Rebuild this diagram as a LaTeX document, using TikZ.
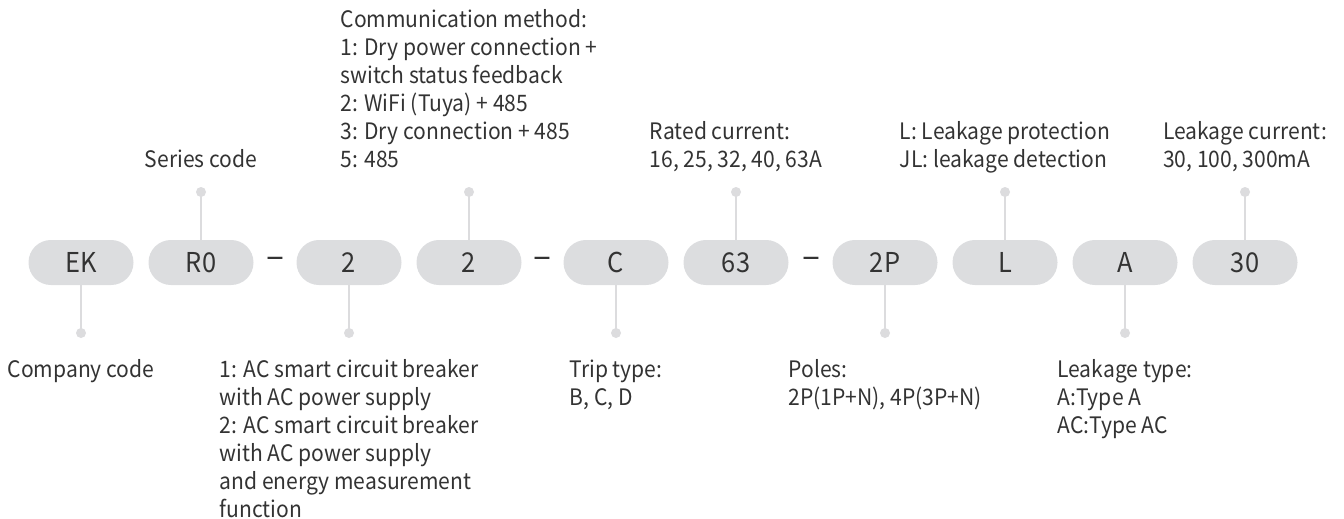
\documentclass[tikz,border=0pt]{standalone}
\usepackage{fontspec}
\setmainfont[FakeStretch=0.93]{Noto Sans CJK SC}
\definecolor{pillgray}{HTML}{DCDDDF}
\definecolor{txt}{HTML}{333333}
\definecolor{conn}{HTML}{DCDCDE}
\begin{document}
\begin{tikzpicture}[x=0.75pt,y=-0.75pt,
  pill/.style={fill=pillgray, rounded corners=16.8pt, minimum width=78.75pt, minimum height=33.75pt, inner sep=0pt, text=txt, font=\fontsize{20.5}{24}\selectfont},
  sepdash/.style={text=txt, inner sep=0pt, font=\fontsize{27}{30}\selectfont},
  dot/.style={circle, fill=conn, minimum size=7.5pt, inner sep=0pt},
  link/.style={draw=conn, line width=1.5pt},
  lbltop/.style={anchor=south, align=left, inner sep=0pt, text=txt, font=\fontsize{17}{21}\selectfont},
  lblbot/.style={anchor=north, align=left, inner sep=0pt, text=txt, font=\fontsize{17}{21}\selectfont}]
\useasboundingbox (0,0) rectangle (1344,518);
% pills
\node[pill] (ek)  at (81,262.5)   {EK};
\node[pill] (r0)  at (201,262.5)  {R0};
\node[sepdash] (d1) at (275,263) {–};
\node[pill] (p2a) at (349,262.5)  {2};
\node[pill] (p2b) at (469,262.5)  {2};
\node[sepdash] (d2) at (542,263) {–};
\node[pill] (pc)  at (616,262.5)  {C};
\node[pill] (p63) at (736,262.5)  {63};
\node[sepdash] (d3) at (811,263) {–};
\node[pill] (p2p) at (885,262.5)  {2P};
\node[pill] (pl)  at (1005,262.5) {L};
\node[pill] (pa)  at (1125,262.5) {A};
\node[pill] (p30) at (1245,262.5) {30};
% dots
\node[dot] (tr0)  at (201,192) {};
\node[dot] (t2b)  at (469,192) {};
\node[dot] (t63)  at (736,192) {};
\node[dot] (tl)   at (1005,192) {};
\node[dot] (t30)  at (1245,192) {};
\node[dot] (bek)  at (81,333) {};
\node[dot] (b2a)  at (349,333) {};
\node[dot] (bc)   at (616,333) {};
\node[dot] (b2p)  at (885,333) {};
\node[dot] (ba)   at (1125,333) {};
% links
\draw[link] (r0.north) -- (tr0.center);
\draw[link] (p2b.north) -- (t2b.center);
\draw[link] (p63.north) -- (t63.center);
\draw[link] (pl.north) -- (tl.center);
\draw[link] (p30.north) -- (t30.center);
\draw[link] (ek.south) -- (bek.center);
\draw[link] (p2a.south) -- (b2a.center);
\draw[link] (pc.south) -- (bc.center);
\draw[link] (p2p.south) -- (b2p.center);
\draw[link] (pa.south) -- (ba.center);
% top labels
\node[lbltop] (lser) at (201,176) {Series code\strut};
\node[lbltop] (lcom) at (469,176) {Communication method:\\1: Dry power connection +\\switch status feedback\\2: WiFi (Tuya) + 485\\3: Dry connection + 485\\5: 485\strut};
\node[lbltop] (lrat) at (736,176) {Rated current:\\16, 25, 32, 40, 63A\strut};
\node[lbltop] (llp)  at (1005,176) {L: Leakage protection\\JL: leakage detection\strut};
\node[lbltop] (llc)  at (1245,176) {Leakage current:\\30, 100, 300mA\strut};
% bottom labels
\node[lblbot] (lcomp) at (81,358) {\strut Company code};
\node[lblbot] (ltype) at (349,358) {\strut 1: AC smart circuit breaker\\with AC power supply\\2: AC smart circuit breaker\\with AC power supply\\and energy measurement\\function};
\node[lblbot] (ltrip) at (616,358) {\strut Trip type:\\B, C, D};
\node[lblbot] (lpol)  at (885,358) {\strut Poles:\\2P(1P+N), 4P(3P+N)};
\node[lblbot] (llt)   at (1125,358) {\strut Leakage type:\\A:Type A\\AC:Type AC};
\end{tikzpicture}
\end{document}
